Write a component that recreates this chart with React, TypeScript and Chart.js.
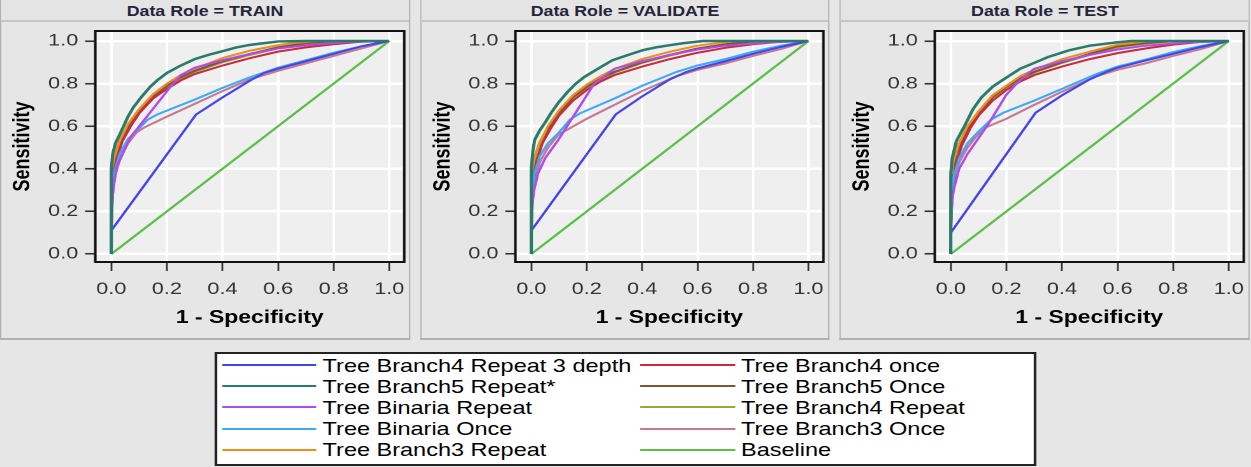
import React, { useEffect, useRef } from 'react';
import { Chart, registerables } from 'chart.js';

Chart.register(...registerables);

type Pt = [number, number];

// ---------- text ----------
const panelTitles = ['Data Role = TRAIN', 'Data Role = VALIDATE', 'Data Role = TEST'];
const xAxisTitle = '1 - Specificity';
const yAxisTitle = 'Sensitivity';
const tickValues = [0, 0.2, 0.4, 0.6, 0.8, 1.0];
const tickLabels = ['0.0', '0.2', '0.4', '0.6', '0.8', '1.0'];

const seriesLabels = [
  'Tree Branch4 Repeat 3 depth',
  'Tree Branch5 Repeat*',
  'Tree Binaria Repeat',
  'Tree Binaria Once',
  'Tree Branch3 Repeat',
  'Tree Branch4 once',
  'Tree Branch5 Once',
  'Tree Branch4 Repeat',
  'Tree Branch3 Once',
  'Baseline',
];
const seriesColors = [
  '#4545e6', '#2b7b6b', '#b24ce6', '#40a8f5', '#e8901e',
  '#c92a40', '#7b5538', '#9aa83a', '#c47a92', '#5cbf4a',
];

// ---------- data: TRAIN ----------
const trainB4Repeat3: Pt[] = [[0,0],[0,0.11],[0.305,0.655],[0.4,0.735],[0.5,0.815],[0.55,0.85],[0.6,0.87],[0.7,0.905],[0.8,0.94],[0.9,0.975],[1,1]];
const trainB5RepeatStar: Pt[] = [[0,0],[0,0.4],[0.005,0.47],[0.015,0.52],[0.03,0.56],[0.06,0.645],[0.08,0.69],[0.11,0.74],[0.14,0.785],[0.165,0.815],[0.2,0.85],[0.25,0.885],[0.3,0.915],[0.35,0.935],[0.4,0.952],[0.45,0.97],[0.5,0.982],[0.55,0.99],[0.6,0.998],[0.7,1],[1,1]];
const trainBinariaRepeat: Pt[] = [[0,0],[0,0.22],[0.01,0.33],[0.02,0.41],[0.04,0.47],[0.07,0.55],[0.21,0.78],[0.25,0.84],[0.3,0.875],[0.4,0.91],[0.5,0.94],[0.6,0.965],[0.7,0.98],[0.85,0.995],[1,1]];
const trainBinariaOnce: Pt[] = [[0,0],[0,0.15],[0.005,0.3],[0.01,0.38],[0.03,0.47],[0.06,0.54],[0.1,0.59],[0.13,0.63],[0.165,0.655],[0.3,0.725],[0.4,0.78],[0.5,0.83],[0.6,0.875],[0.7,0.91],[0.8,0.945],[0.9,0.975],[1,1]];
const trainB3Repeat: Pt[] = [[0,0],[0,0.38],[0.01,0.45],[0.03,0.53],[0.06,0.61],[0.1,0.68],[0.15,0.75],[0.2,0.8],[0.25,0.84],[0.3,0.87],[0.4,0.92],[0.5,0.955],[0.6,0.98],[0.65,0.99],[0.75,1],[1,1]];
const trainB4Once: Pt[] = [[0,0],[0,0.1],[0.005,0.3],[0.01,0.38],[0.02,0.45],[0.04,0.53],[0.07,0.6],[0.1,0.66],[0.15,0.73],[0.2,0.775],[0.25,0.815],[0.3,0.845],[0.4,0.885],[0.5,0.92],[0.6,0.95],[0.7,0.97],[0.8,0.985],[0.9,0.997],[1,1]];
const trainB5Once: Pt[] = [[0,0],[0,0.35],[0.005,0.4],[0.02,0.48],[0.05,0.57],[0.1,0.67],[0.15,0.74],[0.2,0.79],[0.25,0.83],[0.3,0.86],[0.4,0.905],[0.5,0.94],[0.6,0.97],[0.7,0.99],[0.8,1],[1,1]];
const trainB4Repeat: Pt[] = [[0,0],[0,0.4],[0.01,0.46],[0.03,0.53],[0.06,0.6],[0.1,0.67],[0.15,0.74],[0.2,0.785],[0.3,0.855],[0.4,0.9],[0.5,0.935],[0.6,0.965],[0.7,0.985],[0.8,0.997],[1,1]];
const trainB3Once: Pt[] = [[0,0],[0,0.12],[0.005,0.28],[0.01,0.35],[0.03,0.44],[0.06,0.52],[0.09,0.57],[0.12,0.595],[0.2,0.645],[0.3,0.705],[0.4,0.765],[0.5,0.82],[0.6,0.86],[0.7,0.895],[0.8,0.93],[0.9,0.965],[1,1]];
const baseline: Pt[] = [[0,0],[1,1]];

// ---------- data: VALIDATE ----------
const valB4Repeat3: Pt[] = [[0,0],[0,0.11],[0.305,0.656],[0.4,0.74],[0.5,0.82],[0.56,0.855],[0.6,0.872],[0.7,0.905],[0.8,0.94],[0.9,0.972],[1,1]];
const valB5RepeatStar: Pt[] = [[0,0],[0,0.4],[0.005,0.48],[0.012,0.536],[0.03,0.58],[0.049,0.616],[0.07,0.66],[0.098,0.711],[0.13,0.76],[0.159,0.798],[0.19,0.83],[0.22,0.854],[0.26,0.885],[0.293,0.91],[0.35,0.935],[0.402,0.957],[0.45,0.97],[0.488,0.978],[0.55,0.99],[0.62,1],[1,1]];
const valBinariaRepeat: Pt[] = [[0,0],[0,0.2],[0.01,0.3],[0.024,0.378],[0.05,0.45],[0.098,0.537],[0.226,0.798],[0.3,0.87],[0.4,0.905],[0.5,0.935],[0.6,0.96],[0.7,0.978],[0.85,0.993],[1,1]];
const valBinariaOnce: Pt[] = [[0,0],[0,0.14],[0.005,0.29],[0.01,0.37],[0.03,0.46],[0.06,0.52],[0.098,0.568],[0.14,0.632],[0.175,0.66],[0.3,0.73],[0.4,0.79],[0.524,0.855],[0.6,0.885],[0.7,0.915],[0.8,0.95],[0.9,0.978],[1,1]];
const valB3Repeat: Pt[] = [[0,0],[0,0.37],[0.01,0.44],[0.03,0.52],[0.06,0.6],[0.1,0.675],[0.15,0.745],[0.2,0.795],[0.25,0.835],[0.3,0.868],[0.4,0.915],[0.5,0.95],[0.6,0.978],[0.7,0.995],[0.75,1],[1,1]];
const valB4Once: Pt[] = [[0,0],[0,0.1],[0.005,0.28],[0.01,0.36],[0.02,0.44],[0.04,0.52],[0.07,0.59],[0.1,0.65],[0.15,0.72],[0.2,0.77],[0.25,0.81],[0.3,0.84],[0.4,0.88],[0.5,0.915],[0.6,0.945],[0.7,0.968],[0.8,0.985],[0.9,0.997],[1,1]];
const valB5Once: Pt[] = [[0,0],[0,0.34],[0.005,0.39],[0.02,0.47],[0.05,0.565],[0.1,0.665],[0.15,0.735],[0.2,0.785],[0.25,0.825],[0.3,0.855],[0.4,0.9],[0.5,0.935],[0.6,0.965],[0.7,0.985],[0.8,0.998],[1,1]];
const valB4Repeat: Pt[] = [[0,0],[0,0.39],[0.01,0.45],[0.03,0.525],[0.06,0.595],[0.1,0.665],[0.15,0.735],[0.2,0.782],[0.3,0.852],[0.4,0.897],[0.5,0.932],[0.6,0.962],[0.7,0.983],[0.8,0.996],[1,1]];
const valB3Once: Pt[] = [[0,0],[0,0.12],[0.005,0.27],[0.01,0.34],[0.03,0.43],[0.06,0.5],[0.098,0.56],[0.152,0.6],[0.2,0.635],[0.3,0.7],[0.4,0.765],[0.524,0.835],[0.6,0.865],[0.7,0.895],[0.8,0.93],[0.9,0.962],[1,1]];

// ---------- data: TEST ----------
const testB4Repeat3: Pt[] = [[0,0],[0,0.1],[0.305,0.663],[0.4,0.745],[0.5,0.82],[0.56,0.855],[0.6,0.875],[0.7,0.908],[0.8,0.94],[0.9,0.972],[1,1]];
const testB5RepeatStar: Pt[] = [[0,0],[0,0.38],[0.005,0.45],[0.02,0.53],[0.049,0.6],[0.08,0.68],[0.11,0.735],[0.15,0.785],[0.183,0.814],[0.25,0.87],[0.305,0.9],[0.35,0.925],[0.427,0.957],[0.5,0.978],[0.6,0.994],[0.65,1],[1,1]];
const testBinariaRepeat: Pt[] = [[0,0],[0,0.2],[0.01,0.3],[0.03,0.4],[0.06,0.47],[0.134,0.608],[0.2,0.748],[0.244,0.81],[0.3,0.87],[0.4,0.905],[0.5,0.935],[0.6,0.96],[0.7,0.978],[0.85,0.993],[1,1]];
const testBinariaOnce: Pt[] = [[0,0],[0,0.13],[0.005,0.28],[0.01,0.36],[0.03,0.45],[0.06,0.52],[0.1,0.575],[0.146,0.632],[0.189,0.663],[0.3,0.72],[0.4,0.775],[0.524,0.845],[0.6,0.88],[0.7,0.912],[0.8,0.948],[0.9,0.977],[1,1]];
const testB3Repeat: Pt[] = [[0,0],[0,0.36],[0.01,0.44],[0.03,0.52],[0.06,0.6],[0.1,0.67],[0.15,0.745],[0.2,0.79],[0.25,0.835],[0.3,0.865],[0.4,0.915],[0.5,0.95],[0.6,0.983],[0.7,0.997],[0.75,1],[1,1]];
const testB4Once: Pt[] = [[0,0],[0,0.1],[0.005,0.27],[0.01,0.35],[0.02,0.43],[0.04,0.51],[0.07,0.59],[0.1,0.65],[0.15,0.72],[0.2,0.77],[0.25,0.81],[0.3,0.84],[0.4,0.88],[0.5,0.915],[0.6,0.943],[0.7,0.965],[0.8,0.983],[0.9,0.996],[1,1]];
const testB5Once: Pt[] = [[0,0],[0,0.33],[0.005,0.39],[0.02,0.47],[0.05,0.56],[0.1,0.66],[0.15,0.735],[0.2,0.785],[0.25,0.825],[0.3,0.855],[0.4,0.9],[0.5,0.94],[0.6,0.975],[0.7,0.99],[0.8,1],[1,1]];
const testB4Repeat: Pt[] = [[0,0],[0,0.38],[0.01,0.45],[0.03,0.52],[0.06,0.595],[0.1,0.665],[0.15,0.735],[0.2,0.782],[0.3,0.852],[0.4,0.897],[0.5,0.935],[0.6,0.97],[0.7,0.988],[0.8,0.998],[1,1]];
const testB3Once: Pt[] = [[0,0],[0,0.12],[0.005,0.27],[0.01,0.34],[0.03,0.43],[0.06,0.5],[0.09,0.55],[0.122,0.592],[0.2,0.635],[0.3,0.7],[0.4,0.762],[0.524,0.835],[0.6,0.865],[0.7,0.895],[0.8,0.93],[0.9,0.962],[1,1]];

const trainSeries = [trainB4Repeat3, trainB5RepeatStar, trainBinariaRepeat, trainBinariaOnce, trainB3Repeat, trainB4Once, trainB5Once, trainB4Repeat, trainB3Once, baseline];
const validateSeries = [valB4Repeat3, valB5RepeatStar, valBinariaRepeat, valBinariaOnce, valB3Repeat, valB4Once, valB5Once, valB4Repeat, valB3Once, baseline];
const testSeries = [testB4Repeat3, testB5RepeatStar, testBinariaRepeat, testBinariaOnce, testB3Repeat, testB4Once, testB5Once, testB4Repeat, testB3Once, baseline];
const panelSeries = [trainSeries, validateSeries, testSeries];

// ---------- layout (internal units, whole picture stretched horizontally) ----------
const INNER_W = 985;
const SX = 1251 / INNER_W;
const FONT = "'Liberation Sans', Arial, Helvetica, sans-serif";
const PANEL_W = 322.8;
const PANEL_LEFTS = [0, 330.7, 661.4];
const CANVAS_W = PANEL_W - 2;
const CANVAS_H = 312;

function RocPanel({ title, series, left }: { title: string; series: Pt[][]; left: number }) {
  const ref = useRef<HTMLCanvasElement | null>(null);

  useEffect(() => {
    const canvas = ref.current;
    if (!canvas) return;
    const framePlugin = {
      id: 'plotFrame',
      beforeDraw(chart: any) {
        const { ctx, chartArea: a } = chart;
        ctx.save();
        ctx.fillStyle = '#efefef';
        ctx.fillRect(a.left, a.top, a.right - a.left, a.bottom - a.top);
        ctx.restore();
      },
      afterDatasetsDraw(chart: any) {
        const { ctx, chartArea: a } = chart;
        ctx.save();
        ctx.strokeStyle = '#111';
        ctx.lineWidth = 2;
        ctx.strokeRect(a.left, a.top, a.right - a.left, a.bottom - a.top);
        ctx.restore();
      },
    };
    const setTicks = (scale: any) => {
      scale.ticks = tickValues.map((v) => ({ value: v }));
    };
    const tickCb = (_v: any, i: number) => tickLabels[i];

    const chart = new Chart(canvas, {
      type: 'scatter',
      data: {
        datasets: series.map((pts, i) => ({
          label: seriesLabels[i],
          data: pts.map(([x, y]) => ({ x, y })),
          showLine: true,
          borderColor: seriesColors[i],
          backgroundColor: seriesColors[i],
          borderWidth: i === 1 ? 2.5 : 2,
          pointRadius: 0,
          pointHoverRadius: 0,
          tension: 0,
          order: i === 1 ? 0 : i === 9 ? 20 : i + 1,
        })),
      },
      options: {
        animation: false,
        responsive: false,
        devicePixelRatio: 2,
        events: [],
        layout: { padding: { top: 7, right: 3.7, bottom: 0, left: 0 } },
        plugins: { legend: { display: false }, tooltip: { enabled: false } },
        scales: {
          x: {
            type: 'linear',
            min: -0.0576,
            max: 1.054,
            afterBuildTicks: setTicks,
            afterFit: (s: any) => { s.height = 74; s.paddingLeft = 0; s.paddingRight = 0; },
            border: { display: false },
            grid: { color: '#ffffff', lineWidth: 2, tickLength: 9, tickColor: '#333', tickWidth: 1.4, drawTicks: true },
            ticks: { font: { family: FONT, size: 17 }, color: '#333', padding: 8, maxRotation: 0, autoSkip: false, callback: tickCb },
            title: { display: true, text: xAxisTitle, color: '#000', font: { family: FONT, size: 18, weight: 'bold' }, padding: { top: 0, bottom: 7 } },
          },
          y: {
            type: 'linear',
            min: -0.0376,
            max: 1.047,
            afterBuildTicks: setTicks,
            afterFit: (s: any) => { s.width = 73.8; s.paddingTop = 0; s.paddingBottom = 0; },
            border: { display: false },
            grid: { color: '#ffffff', lineWidth: 2.5, tickLength: 8, tickColor: '#333', tickWidth: 1.6, drawTicks: true },
            ticks: { font: { family: FONT, size: 17 }, color: '#333', padding: 5.4, autoSkip: false, callback: tickCb },
            title: { display: true, text: yAxisTitle, color: '#000', font: { family: FONT, size: 18, weight: 'bold' }, padding: { top: 6.3, bottom: 0 } },
          },
        },
      } as any,
      plugins: [framePlugin],
    });
    return () => chart.destroy();
  }, [series]);

  return (
    <div
      style={{
        position: 'absolute',
        left,
        top: 0,
        width: PANEL_W,
        height: 340,
        boxSizing: 'border-box',
        borderLeft: '1px solid #b0b0b0',
        borderRight: '1px solid #b0b0b0',
        borderBottom: '2px solid #b0b0b0',
        background: '#e6e6e6',
      }}
    >
      <div
        style={{
          height: 22,
          boxSizing: 'border-box',
          borderBottom: '2px solid #c4c4c4',
          background: '#e4e4e4',
          textAlign: 'center',
          fontFamily: FONT,
          fontWeight: 'bold',
          fontSize: 14,
          lineHeight: '23px',
          color: '#24243c',
          whiteSpace: 'nowrap',
        }}
      >
        {title}
      </div>
      <canvas
        ref={ref}
        width={CANVAS_W}
        height={CANVAS_H}
        style={{ position: 'absolute', left: 0, top: 24, width: CANVAS_W, height: CANVAS_H }}
      />
    </div>
  );
}

function Legend() {
  const items = seriesLabels.map((label, i) => (
    <div key={label} style={{ display: 'flex', alignItems: 'center', height: 21.2, whiteSpace: 'nowrap' }}>
      <div style={{ width: 74.5, height: 2, background: seriesColors[i], marginLeft: 4.3, marginRight: 4.7, flex: 'none' }} />
      <span style={{ fontFamily: FONT, fontSize: 18.5, color: '#000', lineHeight: '21px' }}>{label}</span>
    </div>
  ));
  return (
    <div
      style={{
        position: 'absolute',
        left: 168.5,
        top: 352,
        width: 647,
        height: 114,
        boxSizing: 'border-box',
        border: '2px solid #222',
        background: '#ffffff',
        display: 'grid',
        gridAutoFlow: 'column',
        gridTemplateRows: 'repeat(5, 21.2px)',
        gridTemplateColumns: '329.5px 1fr',
        paddingTop: 0.5,
      }}
    >
      {items}
    </div>
  );
}

export default function App() {
  return (
    <div
      style={{
        position: 'absolute',
        left: 0,
        top: 0,
        width: INNER_W,
        height: 467,
        overflow: 'hidden',
        background: '#e6e6e6',
        transform: `scaleX(${SX})`,
        transformOrigin: '0 0',
      }}
    >
      {panelTitles.map((t, i) => (
        <RocPanel key={t} title={t} series={panelSeries[i]} left={PANEL_LEFTS[i]} />
      ))}
      <Legend />
    </div>
  );
}
